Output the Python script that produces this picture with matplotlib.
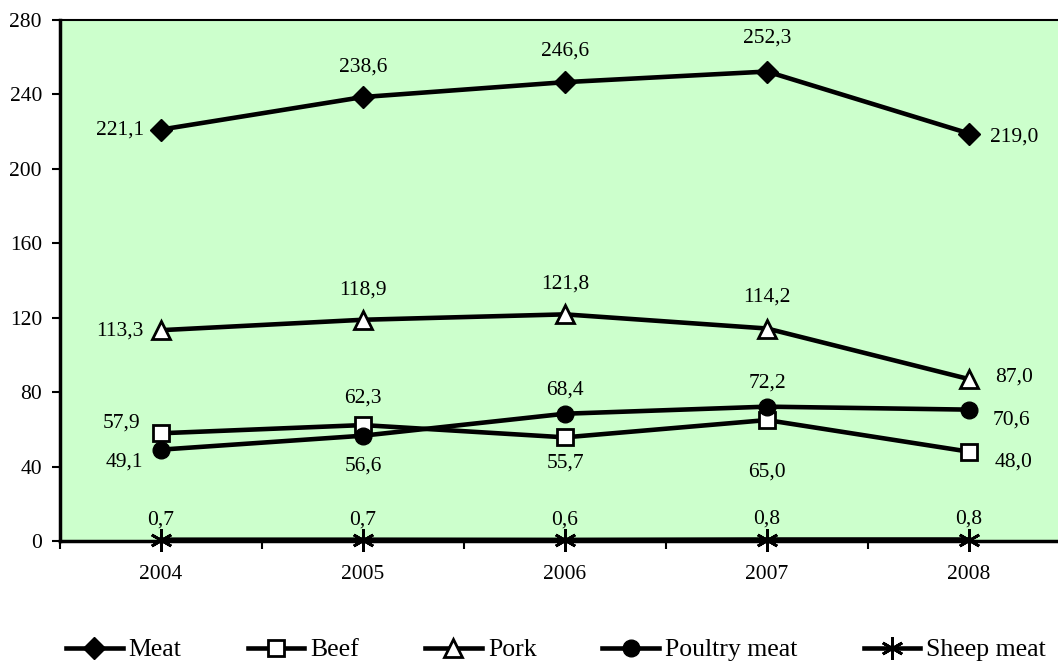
import matplotlib
matplotlib.use("Agg")
import matplotlib.pyplot as plt
from matplotlib.ticker import FixedLocator, NullFormatter

plt.rcParams['font.family'] = ['Liberation Serif', 'DejaVu Serif']

years = ['2004', '2005', '2006', '2007', '2008']
meat = [221.1, 238.6, 246.6, 252.3, 219.0]
beef = [57.9, 62.3, 55.7, 65.0, 48.0]
pork = [113.3, 118.9, 121.8, 114.2, 87.0]
poultry = [49.1, 56.6, 68.4, 72.2, 70.6]
sheep = [0.7, 0.7, 0.6, 0.8, 0.8]
yticks = [0, 40, 80, 120, 160, 200, 240, 280]

def fmt(v):
    return f"{v:.1f}".replace('.', ',')

W, H = 1058, 663
fig = plt.figure(figsize=(W / 100, H / 100), dpi=100)
fig.patch.set_facecolor('white')
ax = fig.add_axes([60 / W, 1 - 541 / H, 1010 / W, 521 / H])
ax.set_facecolor('#CCFFCC')

x = list(range(len(years)))
lw = 3.3
series = [
    ('Meat', meat, dict(marker='D', markersize=11, markerfacecolor='black', markeredgecolor='black')),
    ('Beef', beef, dict(marker='s', markersize=11, markerfacecolor='white', markeredgecolor='black', markeredgewidth=2)),
    ('Pork', pork, dict(marker='^', markersize=13, markerfacecolor='white', markeredgecolor='black', markeredgewidth=2)),
    ('Poultry meat', poultry, dict(marker='o', markersize=12, markerfacecolor='black', markeredgecolor='black')),
    ('Sheep meat', sheep, dict(marker=(6, 2, 0), markersize=16, markeredgecolor='black', markeredgewidth=2)),
]
handles = []
for name, vals, kw in series:
    h, = ax.plot(x, vals, color='black', linewidth=lw, label=name, clip_on=False, zorder=3, **kw)
    handles.append(h)

# label offsets in pixels (dx, dy with dy positive = up)
offsets = {
    'Meat': [(-41, 0), (0, 30), (0, 31), (0, 33), (45, -4)],
    'Beef': [(-40, 10), (0, 27), (0, -26), (0, -52), (45, -10)],
    'Pork': [(-41, -1), (0, 30), (0, 30), (0, 31), (45, 2)],
    'Poultry meat': [(-37, -12), (0, -30), (0, 24), (0, 24), (42, -10)],
    'Sheep meat': [(0, 20)] * 5,
}
fs = 15.5
for name, vals, kw in series:
    for i, v in enumerate(vals):
        dx, dy = offsets[name][i]
        ax.annotate(fmt(v), (i, v), xytext=(dx, dy), textcoords='offset pixels',
                    ha='center', va='center', fontsize=fs, zorder=5, annotation_clip=False)

ax.set_xlim(-0.5, len(years) - 0.5)
ax.set_ylim(0, 280)
ax.set_yticks(yticks)
ax.set_yticklabels([str(t) for t in yticks], fontsize=fs)
ax.set_xticks(x)
ax.set_xticklabels(years, fontsize=fs)
ax.tick_params(axis='x', which='major', length=0, pad=17)
ax.xaxis.set_minor_locator(FixedLocator([i - 0.5 for i in range(len(years) + 1)]))
ax.xaxis.set_minor_formatter(NullFormatter())
ax.tick_params(axis='x', which='minor', length=6, width=1.5, direction='out')
ax.tick_params(axis='y', length=6, width=1.5, direction='out', pad=7)

ax.spines['left'].set_linewidth(2.5)
ax.spines['bottom'].set_linewidth(2.5)
ax.spines['top'].set_linewidth(1.5)
ax.spines['right'].set_linewidth(1.5)
for s in ax.spines.values():
    s.set_color('black')

fig.legend(handles=handles, loc='center', bbox_to_anchor=(556 / W, 1 - 650 / H), ncol=5,
           frameon=False, fontsize=18.5, handlelength=2.2, handletextpad=0.24,
           columnspacing=2.57, borderpad=0, borderaxespad=0)

fig.savefig('out.png', dpi=100, facecolor='white')
